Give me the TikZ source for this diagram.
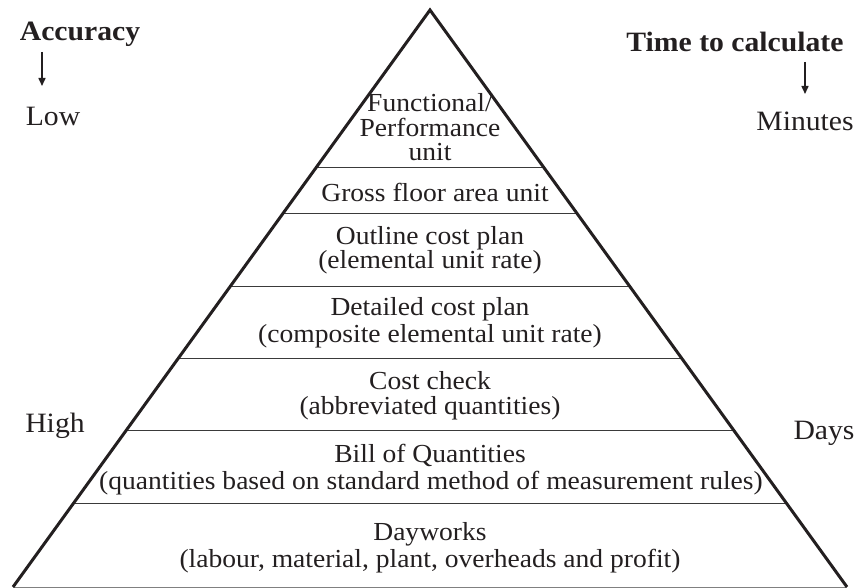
\documentclass[tikz,border=0pt]{standalone}
\usepackage{fontspec}
\setmainfont{Liberation Serif}[FakeStretch=1.06]
\usetikzlibrary{arrows.meta,calc}
\definecolor{ink}{HTML}{231F20}
\definecolor{rule}{HTML}{3A3A3A}
\tikzset{
  txt/.style={anchor=base,inner sep=0pt,text=ink,font=\fontsize{26}{26}\selectfont},
  side/.style={anchor=base,inner sep=0pt,text=ink,font=\fontsize{28}{28}\selectfont},
  head/.style={anchor=base,inner sep=0pt,text=ink,font=\fontsize{28}{28}\selectfont\bfseries},
  edge/.style={draw=ink,line width=3pt,line join=miter},
  divider/.style={draw=rule,line width=0.9pt},
  baseline/.style={draw=gray,line width=0.9pt},
  arr/.style={draw=ink,line width=1.5pt,-{Triangle[length=8pt,width=7pt]}}
}
\begin{document}
\begin{tikzpicture}[x=1pt,y=-1pt]
\useasboundingbox (0,0) rectangle (857,588);
\coordinate (apex) at (430,10);
\coordinate (L) at (13,587);
\coordinate (R) at (847,587);
% dividers
\foreach \f [count=\i] in {0.2721,0.3518,0.4783,0.6031,0.7279,0.8544}{
  \coordinate (dl\i) at ($(apex)!\f!(L)$);
  \coordinate (dr\i) at ($(apex)!\f!(R)$);
  \draw[divider] (dl\i) -- (dr\i);
}
\draw[baseline] (L) -- (R);
\draw[edge] (L) -- (apex) -- (R);
% pyramid texts
\node[txt] (f1) at (430,112) {Functional/};
\node[txt] (f2) at (430,137) {Performance};
\node[txt] (f3) at (430,161) {unit};
\node[txt] (g1) at (435,202) {Gross floor area unit};
\node[txt] (o1) at (430,244) {Outline cost plan};
\node[txt] (o2) at (430,269) {(elemental unit rate)};
\node[txt] (d1) at (430,316) {Detailed cost plan};
\node[txt] (d2) at (430,342) {(composite elemental unit rate)};
\node[txt] (c1) at (430,389) {Cost check};
\node[txt] (c2) at (430,414) {(abbreviated quantities)};
\node[txt] (b1) at (430,462) {Bill of Quantities};
\node[txt] (b2) at (431,489) {(quantities based on standard method of measurement rules)};
\node[txt] (w1) at (430,540) {Dayworks};
\node[txt] (w2) at (430,567) {(labour, material, plant, overheads and profit)};
% side labels
\node[head] (acc) at (80,41) {Accuracy};
\node[head] (time) at (735,52) {Time to calculate};
\coordinate (a1) at (42,52);
\coordinate (a2) at (42,86);
\coordinate (t1) at (805,62);
\coordinate (t2) at (805,94);
\draw[arr] (a1) -- (a2);
\draw[arr] (t1) -- (t2);
\node[side] (low) at (53,126) {Low};
\node[side] (high) at (55,432) {High};
\node[side] (min) at (805,131) {Minutes};
\node[side] (days) at (824,439) {Days};
\end{tikzpicture}
\end{document}
